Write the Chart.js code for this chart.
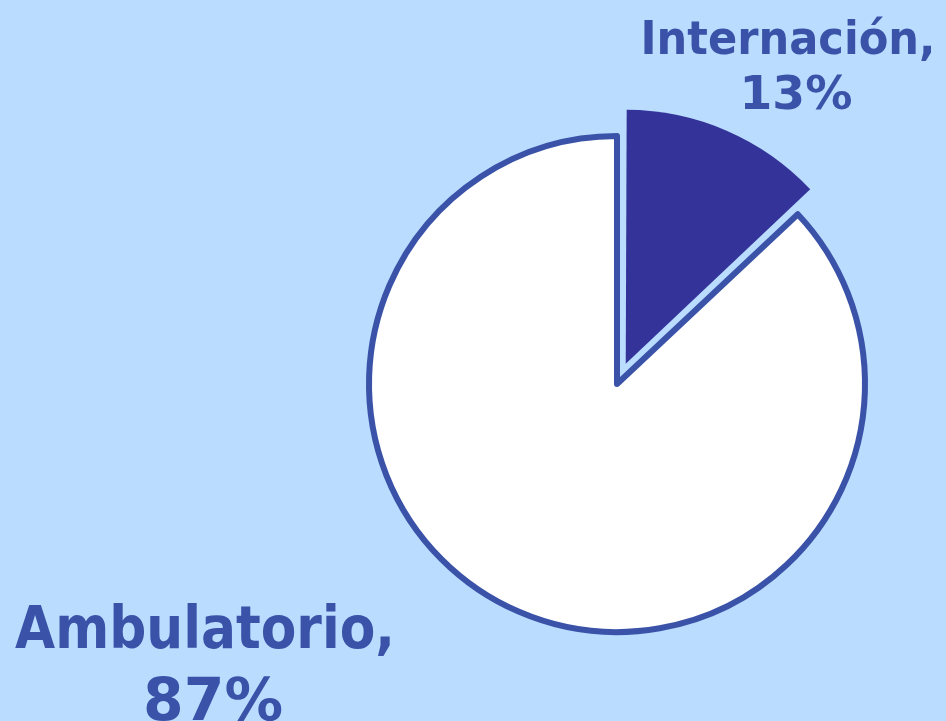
<!DOCTYPE html>
<html>
<head>
<meta charset="utf-8">
<script src="https://cdn.jsdelivr.net/npm/chart.js@4.4.0/dist/chart.umd.min.js"></script>
<style>
  html, body { margin: 0; padding: 0; background: #b9dcff; }
  #wrap { width: 946px; height: 721px; }
</style>
</head>
<body>
<div id="wrap"><canvas id="pie" width="946" height="721"></canvas></div>
<script>
// data
const categories = ['Internación', 'Ambulatorio'];
const percents = [13, 87];

const textBlue = '#3a53a8';

// draw a line of text squeezed to a given width
function fitText(ctx, txt, cx, y, width) {
  const w = ctx.measureText(txt).width;
  const s = width / w;
  ctx.save();
  ctx.translate(cx, y);
  ctx.scale(s, 1);
  ctx.fillText(txt, 0, 0);
  ctx.restore();
}

// label text next to each slice
const sliceLabels = {
  id: 'sliceLabels',
  afterDraw(chart) {
    const ctx = chart.ctx;
    ctx.save();
    ctx.fillStyle = textBlue;
    ctx.textAlign = 'center';
    ctx.textBaseline = 'alphabetic';
    // Internación
    ctx.font = 'bold 46px "DejaVu Sans", Verdana, sans-serif';
    fitText(ctx, categories[0] + ',', 788, 54, 295);
    fitText(ctx, percents[0] + '%', 796, 109, 113);
    // Ambulatorio
    ctx.font = 'bold 59px "DejaVu Sans", Verdana, sans-serif';
    fitText(ctx, categories[1] + ',', 205, 648, 380);
    fitText(ctx, percents[1] + '%', 213, 720, 140);
    ctx.restore();
  }
};

const ctx = document.getElementById('pie').getContext('2d');
new Chart(ctx, {
  type: 'pie',
  data: {
    labels: categories,
    datasets: [{
      data: percents,
      backgroundColor: ['#333399', '#ffffff'],
      borderColor: ['#333399', textBlue],
      borderWidth: [0, 6],
      borderJoinStyle: 'round',
      offset: [88, 0]
    }]
  },
  options: {
    responsive: false,
    animation: false,
    radius: 248,
    layout: { padding: { left: 300, right: 12, top: 60, bottom: 13 } },
    plugins: {
      legend: { display: false },
      tooltip: { enabled: false }
    }
  },
  plugins: [sliceLabels]
});
</script>
</body>
</html>
